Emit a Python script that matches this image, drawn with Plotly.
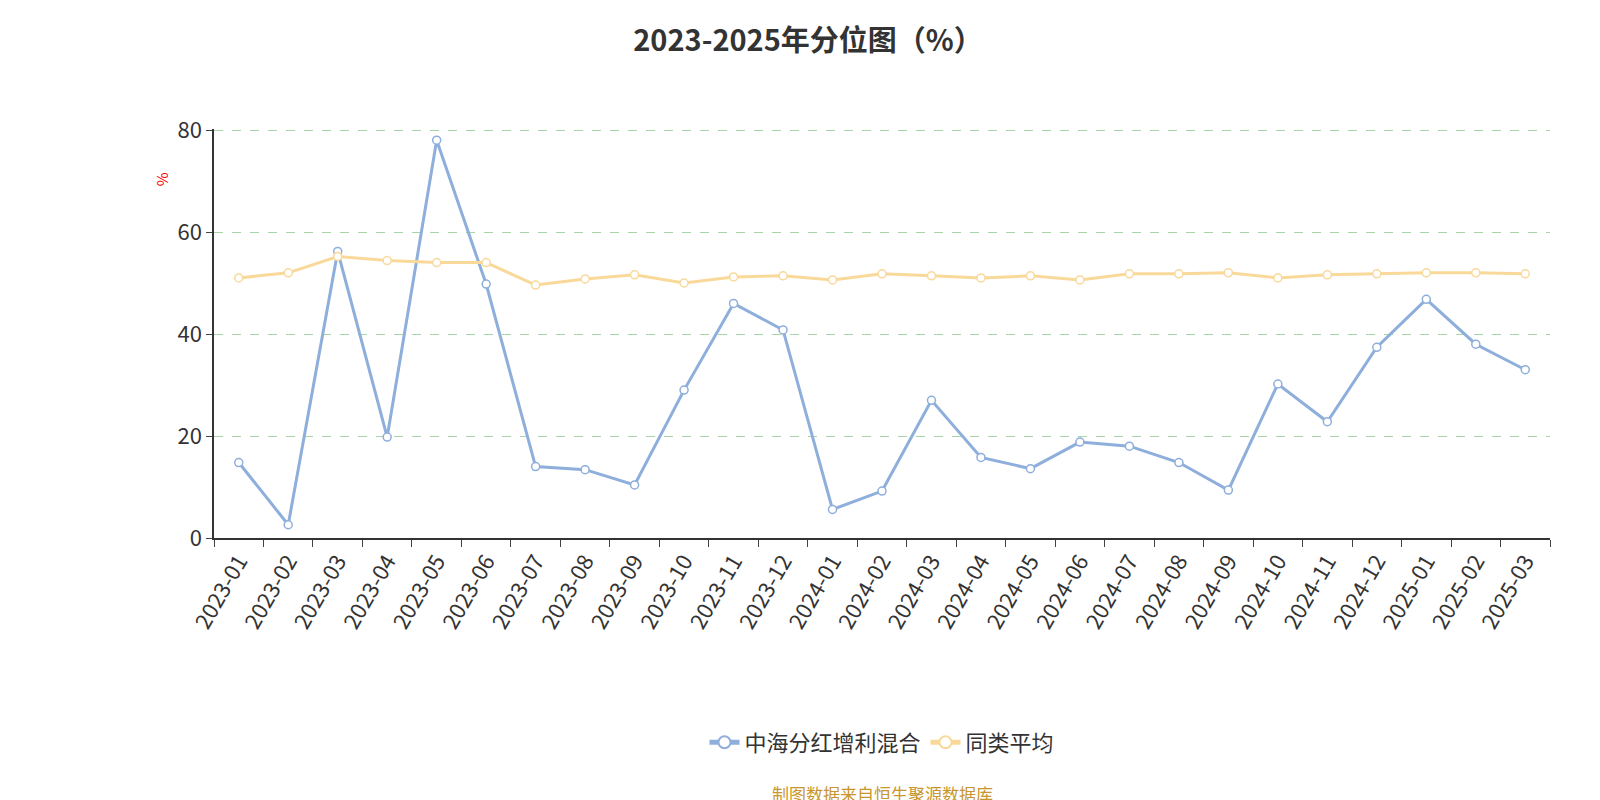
import plotly.graph_objects as go

months = ["2023-01", "2023-02", "2023-03", "2023-04", "2023-05", "2023-06", "2023-07",
          "2023-08", "2023-09", "2023-10", "2023-11", "2023-12", "2024-01", "2024-02",
          "2024-03", "2024-04", "2024-05", "2024-06", "2024-07", "2024-08", "2024-09",
          "2024-10", "2024-11", "2024-12", "2025-01", "2025-02", "2025-03"]
fund = [14.8, 2.6, 56.2, 19.8, 78.0, 49.8, 14.0, 13.4, 10.4, 29.0, 46.0, 40.8, 5.6, 9.2,
        27.0, 15.8, 13.6, 18.8, 18.0, 14.8, 9.4, 30.2, 22.8, 37.4, 46.8, 38.0, 33.0]
peer_avg = [51.0, 52.0, 55.2, 54.4, 54.0, 54.0, 49.6, 50.8, 51.6, 50.0, 51.2, 51.4, 50.6, 51.8,
            51.4, 51.0, 51.4, 50.6, 51.8, 51.8, 52.0, 51.0, 51.6, 51.8, 52.0, 52.0, 51.8]

fig = go.Figure()
fig.add_trace(go.Scatter(
    x=months, y=fund, name="中海分红增利混合", mode="lines+markers",
    line=dict(color="#8eaedb", width=3),
    marker=dict(size=8, color="white", line=dict(color="#8eaedb", width=1.5)),
))
fig.add_trace(go.Scatter(
    x=months, y=peer_avg, name="同类平均", mode="lines+markers",
    line=dict(color="#f9d99a", width=3),
    marker=dict(size=8, color="white", line=dict(color="#f9d99a", width=1.5)),
))

fig.update_layout(
    width=1600, height=800,
    title=dict(text="<b>2023-2025年分位图（%）</b>", x=0.5, y=0.972, xanchor="center",
               font=dict(size=29, color="#333")),
    font=dict(family="Noto Sans CJK SC, Noto Sans, sans-serif", color="#333"),
    plot_bgcolor="white", paper_bgcolor="white",
    margin=dict(l=206, r=58, t=121, b=270),
    showlegend=True,
    legend=dict(orientation="h", x=0.5, xanchor="center", y=-0.5, yanchor="middle",
                font=dict(size=22, color="#333"), itemsizing="constant"),
    xaxis=dict(type="category", range=[-0.5, len(months) - 0.5], tickson="boundaries",
               ticks="outside", ticklen=7, tickangle=-60, tickfont=dict(size=22, color="#333"),
               showline=True, linecolor="#333", linewidth=1.5, showgrid=False),
    yaxis=dict(range=[0, 80.2], tickvals=[0, 20, 40, 60, 80], ticks="outside", ticklen=6,
               tickfont=dict(size=22, color="#333"), showline=True, linecolor="#333",
               linewidth=1.5, gridcolor="#a8d5a8", griddash="dash", zeroline=False),
    annotations=[
        dict(text="%", x=-0.048, y=0.9, xref="paper", yref="paper", textangle=-90,
             showarrow=False, font=dict(size=15, color="red")),
        dict(text="制图数据来自恒生聚源数据库", x=0.5, y=-0.625, xref="paper", yref="paper",
             yanchor="middle", showarrow=False, font=dict(size=17, color="#c8962e")),
    ],
)

fig.write_html("out.html")
